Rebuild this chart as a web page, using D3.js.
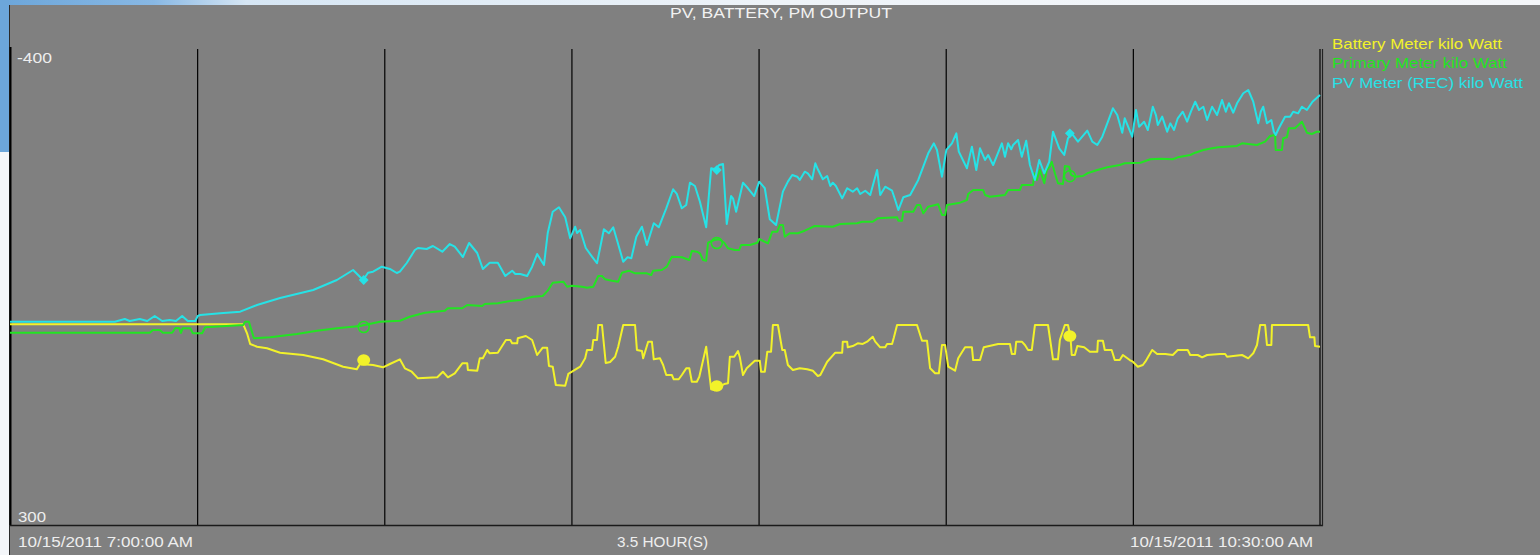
<!DOCTYPE html>
<html lang="en">
<head>
    <meta charset="UTF-8">
    <title>PV, BATTERY, PM OUTPUT</title>
    <script src="https://d3js.org/d3.v7.min.js" charset="utf-8"></script>
    <style>
        body {
            margin: 0;
            background: #f2f5f8;
            overflow: hidden;
        }
        text {
            font-family: "Liberation Sans", Arial, sans-serif;
        }
    </style>
</head>
<body>
    <script>
        var width = 1540;
        var height = 555;

        // minutes after 7:00 AM, kilo Watt
        var batteryMeter = [[0,4.9],[37.4,4.9],[38.0,18.1],[38.5,33.8],[39.6,37.8],[41.2,40.1],[43.3,46.6],[47.0,50.0],[50.2,56.3],[53.4,67.2],[55.6,71.0],[56.1,63.2],[58.2,64.7],[59.8,68.1],[60.9,63.2],[62.5,56.3],[63.3,69.6],[64.4,74.6],[65.4,84.3],[68.5,82.8],[69.4,74.6],[70.2,82.8],[71.3,76.9],[72.5,62.2],[73.3,62.2],[73.4,72.1],[74.9,73.1],[75.3,54.9],[75.8,54.9],[76.5,42.6],[76.9,47.5],[78.2,46.6],[79.5,27.9],[80.2,27.9],[80.5,32.8],[81.3,32.8],[81.4,25.4],[82.7,22.1],[83.7,27.9],[84.5,50.0],[85.4,39.3],[86.1,39.3],[86.4,66.2],[87.0,67.2],[87.5,94.1],[89.0,95.1],[89.5,77.9],[91.4,67.2],[92.2,54.9],[92.5,42.6],[93.3,42.6],[93.5,27.9],[94.1,27.9],[94.3,5.9],[94.9,5.9],[95.5,61.8],[96.2,60.3],[97.0,52.5],[97.5,37.8],[98.3,5.9],[100.2,5.9],[100.5,42.6],[101.3,44.1],[101.5,54.9],[102.3,30.4],[102.9,30.4],[103.2,56.3],[104.2,54.9],[104.7,64.7],[105.2,79.4],[106.1,79.4],[106.4,85.7],[107.2,85.7],[107.7,79.4],[108.4,69.6],[108.9,69.6],[109.3,89.3],[110.1,89.3],[110.5,81.9],[111.6,37.8],[112.4,100.4],[113.0,101.9],[114.5,92.6],[115.1,91.6],[115.4,52.5],[116.1,52.5],[116.7,44.1],[117.0,53.4],[117.5,79.4],[118.1,69.6],[119.4,58.4],[120.2,58.4],[120.4,74.6],[121.0,74.6],[121.4,45.1],[122.0,45.1],[122.3,5.9],[123.1,5.9],[123.8,42.6],[124.2,42.6],[124.7,64.7],[125.5,72.1],[126.6,69.6],[127.8,71.0],[128.7,73.1],[129.5,80.9],[129.9,79.4],[131.0,59.9],[132.3,46.6],[133.4,46.6],[133.5,30.4],[134.2,30.4],[134.3,38.7],[135.1,36.8],[135.9,32.8],[136.7,33.8],[137.4,30.4],[138.3,23.1],[138.7,30.4],[139.5,38.7],[140.3,38.7],[140.6,33.8],[141.4,33.8],[141.7,24.0],[142.2,5.9],[145.4,5.9],[146.2,29.0],[147.0,29.0],[147.5,69.6],[148.3,76.9],[148.9,76.9],[149.4,35.3],[149.9,35.3],[150.4,67.2],[151.5,73.1],[152.0,54.9],[153.1,38.7],[154.2,38.7],[154.4,57.4],[155.5,57.4],[156.1,38.7],[158.4,33.8],[160.3,33.8],[160.6,48.5],[161.1,48.5],[161.3,30.4],[162.2,30.4],[162.7,35.3],[163.2,42.6],[163.8,42.6],[164.3,5.9],[166.4,5.9],[167.2,56.3],[168.0,56.3],[168.3,27.9],[169.1,5.9],[169.6,5.9],[170.0,23.1],[170.2,50.0],[170.7,50.0],[171.1,36.8],[172.2,38.7],[173.1,45.1],[174.3,45.1],[174.4,29.0],[175.2,29.0],[175.5,42.6],[176.6,42.6],[177.1,57.4],[177.9,57.4],[178.4,50.0],[179.5,57.4],[180.0,59.9],[180.8,67.2],[181.6,64.7],[182.0,59.9],[183.1,42.6],[183.9,48.5],[185.2,48.5],[186.4,50.0],[187.2,42.6],[188.8,42.6],[189.2,50.0],[190.4,50.0],[191.1,53.4],[191.9,50.0],[194.0,48.5],[194.8,48.5],[195.1,52.5],[196.1,51.5],[197.5,50.0],[198.5,54.9],[199.3,47.5],[199.9,35.3],[200.4,5.9],[201.2,5.9],[201.5,35.3],[202.2,35.3],[202.3,5.9],[208.1,5.9],[208.4,24.0],[209.1,24.0],[209.2,36.8],[210.0,37.8]];

        var primaryMeter = [[0,17.2],[22.4,17.2],[22.9,13.2],[24.0,13.2],[24.5,17.2],[26.0,17.2],[26.5,10.3],[27.1,10.3],[27.4,17.6],[27.7,10.7],[28.9,10.7],[29.3,18.1],[30.8,18.1],[31.3,9.3],[37.4,5.9],[37.7,1.0],[38.3,1.0],[39.1,25.4],[41.7,24.0],[46.0,19.1],[49.2,14.3],[52.4,10.7],[56.1,7.4],[59.3,1.0],[62.5,-0.4],[64.1,-6.3],[66.5,-12.2],[68.1,-13.7],[69.7,-15.1],[70.2,-18.7],[72.5,-18.7],[73.3,-23.5],[75.7,-22.1],[76.1,-25.0],[78.2,-26.0],[80.2,-29.4],[81.8,-30.9],[83.8,-35.7],[85.4,-36.8],[86.2,-44.6],[87.0,-56.3],[88.7,-57.8],[89.3,-50.4],[90.1,-51.9],[91.7,-50.4],[92.5,-49.0],[93.5,-50.4],[94.3,-66.2],[94.9,-66.2],[95.4,-61.3],[96.5,-59.3],[97.5,-57.8],[98.1,-71.0],[99.2,-74.0],[100.2,-70.1],[102.1,-70.1],[102.8,-67.6],[103.1,-74.0],[104.5,-75.0],[105.3,-79.9],[106.1,-94.6],[107.7,-93.7],[108.9,-89.7],[109.3,-102.9],[110.1,-101.9],[110.6,-99.6],[111.1,-89.7],[111.6,-88.7],[111.9,-115.1],[112.9,-119.1],[113.7,-120.2],[114.5,-115.1],[115.1,-106.9],[116.2,-104.4],[116.9,-104.4],[117.2,-111.8],[118.6,-111.8],[119.8,-115.1],[120.1,-120.6],[121.5,-114.3],[122.2,-131.3],[123.0,-131.3],[123.4,-141.2],[123.9,-141.2],[124.2,-124.0],[125.0,-129.0],[126.3,-129.0],[127.4,-132.8],[128.2,-136.3],[129.0,-139.7],[131.9,-138.7],[133.1,-142.6],[135.8,-143.7],[136.6,-146.0],[138.3,-146.0],[139.1,-151.0],[142.2,-152.5],[142.4,-147.5],[143.0,-147.5],[143.2,-160.7],[144.8,-160.7],[145.4,-170.6],[145.9,-170.6],[146.4,-158.4],[147.2,-168.1],[148.8,-171.6],[149.4,-155.9],[149.9,-155.9],[150.2,-170.6],[152.3,-174.0],[153.4,-177.9],[153.6,-186.8],[154.4,-192.7],[156.0,-192.7],[156.3,-185.3],[157.1,-182.8],[159.5,-185.3],[160.0,-192.7],[161.9,-192.7],[162.2,-200.0],[164.0,-200.0],[164.2,-217.2],[164.6,-207.4],[165.1,-222.1],[165.8,-202.5],[166.2,-222.1],[166.7,-227.0],[167.0,-234.3],[167.5,-217.2],[168.0,-202.5],[168.8,-201.5],[169.1,-227.9],[169.8,-227.0],[170.1,-214.7],[170.7,-212.2],[172.0,-213.2],[172.7,-217.2],[174.3,-222.1],[175.9,-226.1],[177.9,-229.4],[178.7,-231.9],[181.2,-232.8],[182.8,-237.8],[184.4,-238.7],[186.4,-237.8],[187.2,-240.7],[189.2,-244.1],[190.0,-247.5],[191.3,-251.5],[192.7,-254.0],[193.7,-255.5],[196.7,-257.4],[197.5,-261.3],[198.5,-260.3],[199.9,-258.8],[201.2,-263.7],[202.0,-272.1],[202.8,-273.5],[202.9,-251.5],[203.9,-251.5],[204.1,-268.7],[204.7,-270.2],[205.0,-283.4],[206.0,-283.4],[207.1,-293.1],[207.9,-276.9],[208.7,-275.0],[209.5,-278.4],[210.0,-278.4]];

        var pvMeter = [[0,1.0],[16.8,1.0],[18.4,-2.9],[19.2,0],[20.8,-2.9],[22.0,0],[23.2,-7.4],[24.4,0],[25.6,-1.5],[26.6,0],[27.6,-7.4],[28.5,0],[29.7,0],[30.1,-7.4],[30.5,-8.8],[33.7,-11.3],[36.9,-13.7],[39.6,-23.5],[43.3,-33.8],[48.6,-45.6],[52.4,-60.3],[55.0,-75.0],[56.6,-60.3],[57.4,-71.0],[58.2,-72.5],[59.6,-79.9],[60.9,-76.5],[62.0,-70.6],[62.5,-72.5],[63.6,-85.3],[64.9,-104.4],[65.4,-107.4],[66.8,-105.9],[67.8,-110.3],[69.3,-101.9],[70.5,-113.2],[71.3,-109.3],[72.6,-94.1],[73.6,-114.7],[74.9,-100.0],[75.8,-76.5],[76.9,-85.7],[78.2,-85.7],[79.4,-66.2],[80.5,-74.0],[81.0,-69.1],[81.8,-69.1],[82.9,-66.2],[83.7,-79.9],[84.5,-98.5],[85.6,-82.4],[86.2,-129.4],[87.0,-160.7],[88.0,-167.2],[89.0,-152.5],[89.8,-121.6],[90.6,-138.7],[90.9,-129.4],[91.4,-133.8],[92.3,-107.4],[93.3,-94.6],[94.1,-84.9],[95.2,-134.9],[96.0,-129.0],[96.7,-137.8],[97.3,-119.1],[98.3,-87.2],[99.0,-93.7],[99.6,-92.2],[100.4,-124.0],[101.3,-138.7],[102.1,-111.8],[103.2,-143.7],[104.0,-137.8],[105.2,-165.7],[106.3,-193.7],[106.9,-186.8],[107.7,-165.7],[108.4,-170.6],[109.0,-203.4],[109.8,-198.5],[110.6,-175.4],[111.6,-137.8],[112.4,-224.6],[113.0,-223.1],[113.7,-229.4],[114.3,-230.9],[114.9,-142.6],[115.6,-183.8],[115.9,-180.4],[116.4,-160.7],[117.5,-203.4],[118.3,-195.2],[119.3,-183.8],[120.1,-204.9],[121.0,-195.2],[121.8,-149.6],[122.8,-141.2],[123.9,-190.2],[124.7,-204.9],[125.4,-214.7],[126.2,-212.2],[126.6,-207.4],[127.4,-219.6],[127.9,-217.2],[128.6,-208.4],[129.1,-231.9],[129.5,-223.1],[130.3,-208.4],[131.0,-213.2],[131.5,-198.5],[131.9,-203.4],[132.4,-198.5],[133.4,-180.4],[134.2,-195.2],[135.1,-190.2],[135.8,-195.2],[136.3,-186.8],[137.1,-191.6],[137.9,-185.3],[139.0,-222.1],[139.5,-185.3],[140.3,-197.5],[141.4,-191.6],[141.9,-177.9],[142.4,-163.2],[143.2,-181.9],[144.3,-185.3],[145.6,-207.4],[147.2,-246.6],[148.1,-261.3],[148.6,-251.5],[149.4,-212.2],[150.1,-251.5],[151.0,-261.3],[151.7,-276.0],[152.1,-249.0],[153.4,-224.6],[154.2,-256.4],[154.9,-222.1],[155.5,-254.0],[156.3,-236.8],[156.8,-244.1],[157.6,-229.4],[159.0,-261.3],[159.5,-241.6],[160.0,-261.3],[160.5,-252.5],[160.8,-258.8],[161.6,-266.2],[162.2,-241.6],[162.9,-265.2],[163.5,-229.4],[164.3,-207.4],[165.0,-236.8],[165.8,-217.2],[166.6,-234.3],[167.2,-278.4],[168.2,-254.0],[169.0,-244.1],[169.6,-268.7],[170.2,-276.0],[171.2,-263.7],[172.7,-279.9],[173.5,-263.7],[174.3,-258.8],[175.1,-271.0],[175.9,-290.7],[176.8,-312.8],[177.5,-302.9],[178.3,-276.9],[178.7,-298.1],[179.9,-271.0],[180.5,-310.3],[181.0,-285.7],[181.8,-293.1],[182.4,-280.9],[183.2,-315.1],[183.7,-302.9],[184.0,-288.2],[184.7,-300.5],[185.5,-278.4],[186.0,-290.7],[186.6,-280.9],[187.2,-298.1],[188.0,-307.8],[188.7,-293.1],[189.3,-307.8],[190.0,-322.5],[190.6,-310.3],[191.3,-315.1],[191.9,-295.6],[192.7,-315.1],[193.5,-302.9],[194.3,-325.0],[194.9,-307.8],[195.4,-320.2],[196.1,-306.3],[196.7,-320.2],[197.7,-334.9],[198.5,-339.7],[199.3,-322.5],[200.1,-290.7],[200.5,-307.8],[200.9,-315.1],[201.5,-290.7],[202.2,-295.6],[202.6,-278.4],[202.9,-273.5],[203.4,-283.4],[204.4,-300.5],[205.2,-300.5],[205.7,-307.8],[206.5,-305.4],[207.1,-315.1],[207.9,-310.3],[208.8,-322.5],[210.0,-332.4]];

        // marker positions (minutes) and values per series
        var markMinutes = [56.7, 113.3, 169.9];
        var batteryMarks = [57.4, 95.6, 22.1];
        var primaryMarks = [8.8, -114.7, -213.0];
        var pvMarks = [-60.3, -222.0, -276.0];

        var legendLabels = ["Battery Meter kilo Watt", "Primary Meter kilo Watt", "PV Meter (REC) kilo Watt"];
        var seriesColors = ["#f2f22a", "#22e422", "#26e2e6"];
        var yTickLabels = ["-400", "300"];
        var timeLabels = ["10/15/2011 7:00:00 AM", "3.5 HOUR(S)", "10/15/2011 10:30:00 AM"];

        var plot = {left: 10, right: 1320, top: 49, bottom: 525};

        var svg = d3.select("body")
            .append("svg")
            .attr("width", width)
            .attr("height", height);

        // desktop behind the chart window
        var defs = svg.append("defs");
        var grad = defs.append("linearGradient").attr("id", "topStrip");
        grad.append("stop").attr("offset", "0").attr("stop-color", "#6ca6da");
        grad.append("stop").attr("offset", "0.1").attr("stop-color", "#88b8e4");
        grad.append("stop").attr("offset", "0.16").attr("stop-color", "#d6e6f4");
        grad.append("stop").attr("offset", "0.5").attr("stop-color", "#eef3f8");
        grad.append("stop").attr("offset", "1").attr("stop-color", "#f4f6f9");
        svg.append("rect").attr("x", 0).attr("y", 0).attr("width", width).attr("height", 5)
            .attr("fill", "url(#topStrip)");
        svg.append("rect").attr("x", 0).attr("y", 0).attr("width", 9).attr("height", 152)
            .attr("fill", "#6ca6da");
        svg.append("rect").attr("x", 0).attr("y", 152).attr("width", 9).attr("height", height - 152)
            .attr("fill", "#f4f6f9");

        // chart background
        svg.append("rect").attr("x", 9).attr("y", 5).attr("width", width - 9).attr("height", height - 5)
            .attr("fill", "#808080");
        svg.append("line").attr("x1", 9.5).attr("x2", 9.5).attr("y1", 5).attr("y2", height)
            .attr("stroke", "#2a2a2a").attr("stroke-width", 1);

        var x = d3.scaleLinear().domain([0, 210]).range([plot.left, plot.right]);
        var y = d3.scaleLinear().domain([300, -400]).range([plot.bottom, plot.top]);

        // vertical grid every 30 minutes
        var grid = svg.append("g")
            .attr("transform", "translate(0," + plot.bottom + ")")
            .call(d3.axisBottom(x)
                .tickValues(d3.range(30, 210, 30))
                .tickSize(-(plot.bottom - plot.top))
                .tickFormat(""));
        grid.select(".domain").remove();
        grid.selectAll("line").attr("stroke", "#000").attr("stroke-width", 1.2);

        // frame
        svg.append("line").attr("x1", plot.left + 0.5).attr("x2", plot.left + 0.5)
            .attr("y1", plot.top - 2).attr("y2", plot.bottom)
            .attr("stroke", "#000").attr("stroke-width", 2);
        svg.append("line").attr("x1", plot.left).attr("x2", plot.right + 3)
            .attr("y1", plot.bottom + 0.5).attr("y2", plot.bottom + 0.5)
            .attr("stroke", "#1a1a1a").attr("stroke-width", 1.5);
        svg.append("line").attr("x1", plot.right).attr("x2", plot.right)
            .attr("y1", plot.top).attr("y2", plot.bottom)
            .attr("stroke", "#000").attr("stroke-width", 1.2);
        svg.append("line").attr("x1", plot.right + 2.5).attr("x2", plot.right + 2.5)
            .attr("y1", plot.top).attr("y2", plot.bottom + 1)
            .attr("stroke", "#222").attr("stroke-width", 1.2);

        var line = d3.line()
            .x(function(d) { return x(d[0]); })
            .y(function(d) { return y(d[1]); });

        var series = [batteryMeter, primaryMeter, pvMeter];
        svg.append("g").selectAll("path")
            .data(series)
            .enter()
            .append("path")
            .attr("d", line)
            .attr("fill", "none")
            .attr("stroke", function(d, i) { return seriesColors[i]; })
            .attr("stroke-width", 2)
            .attr("stroke-linejoin", "round");

        // markers
        svg.append("g").selectAll("ellipse")
            .data(batteryMarks)
            .enter()
            .append("ellipse")
            .attr("cx", function(d, i) { return x(markMinutes[i]); })
            .attr("cy", function(d) { return y(d); })
            .attr("rx", 6.5).attr("ry", 5.8)
            .attr("fill", seriesColors[0]);

        svg.append("g").selectAll("circle")
            .data(primaryMarks)
            .enter()
            .append("circle")
            .attr("cx", function(d, i) { return x(markMinutes[i]); })
            .attr("cy", function(d) { return y(d); })
            .attr("r", 5.5)
            .attr("fill", "none")
            .attr("stroke", seriesColors[1])
            .attr("stroke-width", 1.6);

        svg.append("g").selectAll("path")
            .data(pvMarks)
            .enter()
            .append("path")
            .attr("d", d3.symbol(d3.symbolSquare, 48))
            .attr("transform", function(d, i) {
                return "translate(" + x(markMinutes[i]) + "," + y(d) + ") rotate(45)";
            })
            .attr("fill", seriesColors[2]);

        // texts (the original was drawn with wide GDI Arial, so widths are fixed)
        function label(txt, xPos, yPos, len, anchor, color) {
            svg.append("text")
                .attr("x", xPos).attr("y", yPos)
                .attr("text-anchor", anchor)
                .attr("font-size", 15)
                .attr("textLength", len)
                .attr("lengthAdjust", "spacingAndGlyphs")
                .attr("fill", color)
                .text(txt);
        }

        label("PV, BATTERY, PM OUTPUT", 670, 17.5, 222, "start", "#f2f2f2");

        label(yTickLabels[0], 17, 63, 35, "start", "#eeeeee");
        label(yTickLabels[1], 18, 522, 28, "start", "#eeeeee");

        label(timeLabels[0], 18, 546.5, 175, "start", "#eeeeee");
        label(timeLabels[1], 617, 546.5, 91, "start", "#eeeeee");
        label(timeLabels[2], 1130, 546.5, 183, "start", "#eeeeee");

        var legendLens = [170, 175, 191];
        legendLabels.forEach(function(d, i) {
            label(d, 1332, 48.5 + i * 19.5, legendLens[i], "start", seriesColors[i]);
        });
    </script>
</body>
</html>
